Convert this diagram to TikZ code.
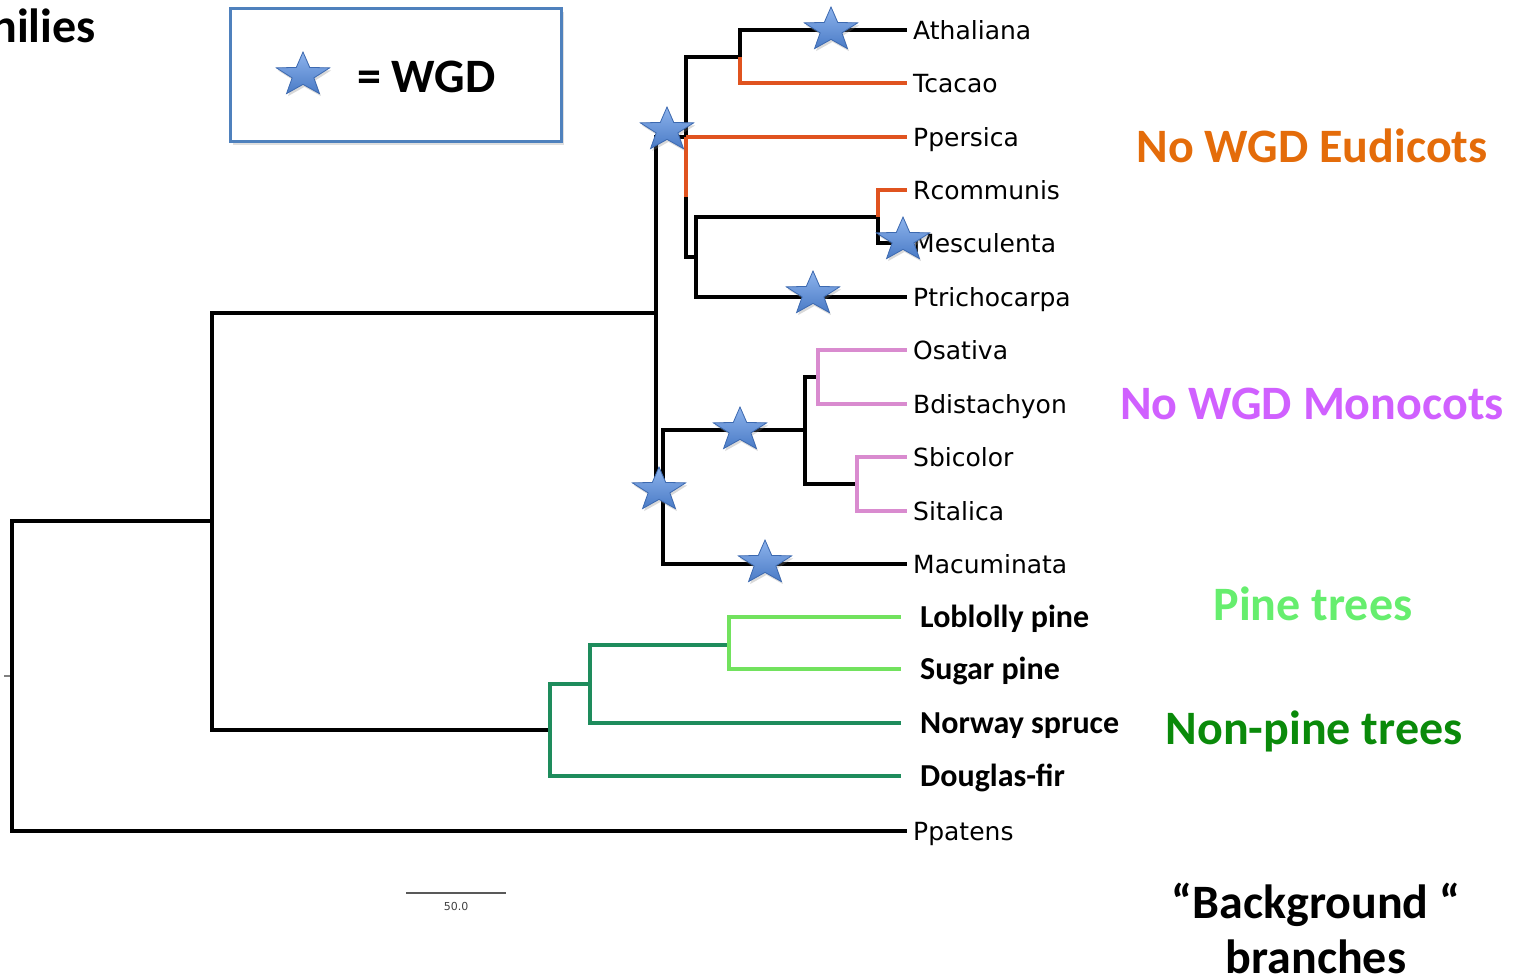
\documentclass[tikz,border=0pt]{standalone}
\usepackage{fontspec}
\setmainfont{DejaVu Sans}
\newfontfamily\calib{Carlito}
\usepackage{tikz}
\usetikzlibrary{shapes.geometric, shadows}
\definecolor{wgdblue}{HTML}{4F81BD}
\definecolor{starlight}{HTML}{8DB3EC}
\definecolor{stardark}{HTML}{4A7BC6}
\definecolor{starline}{HTML}{3C69B0}
\definecolor{eudline}{HTML}{E0531F}
\definecolor{eudtext}{HTML}{E46C0A}
\definecolor{monoline}{HTML}{D98BCF}
\definecolor{monotext}{HTML}{D060FF}
\definecolor{pineline}{HTML}{72E25E}
\definecolor{pinetext}{HTML}{66EE6E}
\definecolor{spruceline}{HTML}{1E8C5C}
\definecolor{sprucetext}{HTML}{0A8A0A}

\begin{document}
\begin{tikzpicture}[x=1pt, y=-1pt,
  br/.style={line width=3.3pt},
  leaf/.style={anchor=west, inner xsep=6pt, inner ysep=0pt, text height=18pt, text depth=0pt,
    font=\fontsize{25}{29}\selectfont},
  cleaf/.style={leaf, inner xsep=19pt, text height=20pt, font=\calib\bfseries\fontsize{32}{36}\selectfont},
  grouplab/.style={anchor=base, inner sep=0pt, font=\calib\bfseries\fontsize{48}{56}\selectfont},
  wgd/.style={star, star points=5, star point ratio=2.45, minimum size=50pt, inner sep=0pt,
    xscale=1.12, yscale=0.92, transform shape,
    top color=starlight, bottom color=stardark, draw=starline, line width=0.8pt,
    drop shadow={opacity=0.3, shadow xshift=1.5pt, shadow yshift=-2.5pt}}]
\useasboundingbox (0,0) rectangle (1520,977);

% leaves
\node[leaf] (ath) at (907,30) {Athaliana};
\node[leaf] (tca) at (907,83) {Tcacao};
\node[leaf] (ppe) at (907,137) {Ppersica};
\node[leaf] (rco) at (907,190) {Rcommunis};
\node[leaf] (mes) at (907,243) {Mesculenta};
\node[leaf] (ptr) at (907,297) {Ptrichocarpa};
\node[leaf] (osa) at (907,350) {Osativa};
\node[leaf] (bdi) at (907,404) {Bdistachyon};
\node[leaf] (sbi) at (907,457) {Sbicolor};
\node[leaf] (sit) at (907,511) {Sitalica};
\node[leaf] (mac) at (907,564) {Macuminata};
\node[cleaf] (lob) at (901,617) {Loblolly pine};
\node[cleaf] (sug) at (901,669) {Sugar pine};
\node[cleaf] (nor) at (901,723) {Norway spruce};
\node[cleaf] (dou) at (901,776) {Douglas-fir};
\node[leaf] (ppa) at (907,831) {Ppatens};

% inner nodes
\coordinate (stem) at (4,676);
\coordinate (root) at (12,676);
\coordinate (seed) at (212,521);
\coordinate (angio) at (656,313);
\coordinate (eud) at (686,137);
\coordinate (eudbend) at (686,197);
\coordinate (athtca) at (740,57);
\coordinate (rosid) at (696,257);
\coordinate (euph) at (878,217);
\coordinate (mono) at (663,490);
\coordinate (grass) at (805,430);
\coordinate (bop) at (818,377);
\coordinate (pacmad) at (857,484);
\coordinate (conif) at (550,730);
\coordinate (pinac) at (590,684);
\coordinate (pinus) at (729,645);

% branches
\draw[gray, line width=2pt] (stem) -- (root);
\draw[br] (root) |- (seed);
\draw[br] (root) |- (ppa.west);
\draw[br] (seed) |- (angio);
\draw[br] (seed) |- (conif);
\draw[br] (angio) |- (eud);
\draw[br] (angio) |- (mono);
\draw[br] (eud) |- (athtca);
\draw[br] (eud) |- (rosid);
\draw[br, eudline] (eud) -- (eudbend);
\draw[br, eudline] (eud) |- (ppe.west);
\draw[br] (athtca) |- (ath.west);
\draw[br, eudline] (athtca) |- (tca.west);
\draw[br] (rosid) |- (euph);
\draw[br] (rosid) |- (ptr.west);
\draw[br, eudline] (euph) |- (rco.west);
\draw[br] (euph) |- (mes.west);
\draw[br] (mono) |- (grass);
\draw[br] (mono) |- (mac.west);
\draw[br] (grass) |- (bop);
\draw[br] (grass) |- (pacmad);
\draw[br, monoline] (bop) |- (osa.west);
\draw[br, monoline] (bop) |- (bdi.west);
\draw[br, monoline] (pacmad) |- (sbi.west);
\draw[br, monoline] (pacmad) |- (sit.west);
\draw[br, spruceline] (conif) |- (pinac);
\draw[br, spruceline] (conif) |- (dou.west);
\draw[br, spruceline] (pinac) |- (pinus);
\draw[br, spruceline] (pinac) |- (nor.west);
\draw[br, pineline] (pinus) |- (lob.west);
\draw[br, pineline] (pinus) |- (sug.west);

% duplications
\node[wgd] (s1) at (831,30) {};
\node[wgd] (s2) at (667,130) {};
\node[wgd] (s3) at (903,240) {};
\node[wgd] (s4) at (813,294) {};
\node[wgd] (s5) at (740,430) {};
\node[wgd] (s6) at (659,490) {};
\node[wgd] (s7) at (765,563) {};

% key
\node[draw=wgdblue, fill=white, line width=3pt, minimum width=331pt, minimum height=133pt,
      drop shadow={opacity=0.25, shadow xshift=2pt, shadow yshift=-3pt}] (key) at (396,75) {};
\node[wgd] (keystar) at (303,75) {};
\node[anchor=base west, inner sep=0pt, font=\calib\bfseries\fontsize{48}{56}\selectfont] (keytext) at (357,92) {= WGD};
\node[anchor=base east, inner sep=0pt, font=\calib\bfseries\fontsize{48}{56}\selectfont] (fam) at (96,42) {nilies};

% scale bar
\coordinate (sbl) at (406,893);
\coordinate (sbr) at (506,893);
\draw[black!65, line width=1.5pt] (sbl) -- (sbr);
\node[font=\fontsize{11}{13}\selectfont, text=black!75] (sblab) at (456,906) {50.0};

% group labels
\node[grouplab, text=eudtext] (eudlab) at (1312,162) {No WGD Eudicots};
\node[grouplab, text=monotext] (monolab) at (1312,419) {No WGD Monocots};
\node[grouplab, text=pinetext] (pinelab) at (1313,620) {Pine trees};
\node[grouplab, text=sprucetext] (sprucelab) at (1314,744) {Non-pine trees};
\node[grouplab] (bgtxt) at (1316,918) {“Background “};
\node[grouplab] (bgtxt2) at (1316,973) {branches};
\end{tikzpicture}
\end{document}
